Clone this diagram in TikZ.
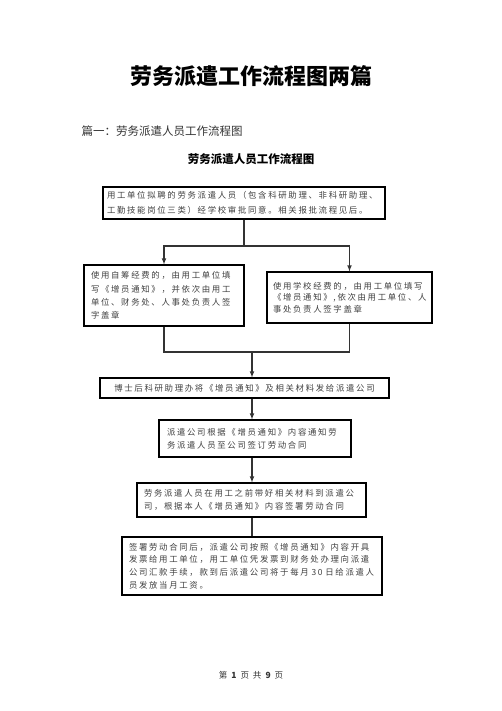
\documentclass[tikz,border=0pt]{standalone}
\usepackage{fontspec}
\setmainfont{Noto Sans CJK SC}
\newfontfamily\boxfont[LetterSpace=20]{Noto Sans CJK SC}
\usepackage{tikz}
\usetikzlibrary{arrows,positioning}

\begin{document}
\begin{tikzpicture}[x=1pt, y=-1pt, >=latex,
    stage/.style={rectangle, draw=black, line width=1.1pt, font=\boxfont\fontsize{8.4}{13}\selectfont, text=black!75, align=left, inner xsep=7pt, inner ysep=2pt},
    flow/.style={draw=black!80, line width=1.1pt},
    heading/.style={font=\bfseries\fontsize{11.5}{12}\selectfont}
]
% Page frame
\useasboundingbox (0,0) rectangle (502,711);

% Titles
\node[font=\bfseries\fontsize{22}{22}\selectfont] (title) at (251,76) {劳务派遣工作流程图两篇};
\node[anchor=west, font=\fontsize{11.5}{12}\selectfont, text=black!80] (part) at (78,131) {篇一：劳务派遣人员工作流程图};
\node[heading] (chart) at (251,159) {劳务派遣人员工作流程图};

% Steps
\node[stage, inner xsep=4pt, text width=274, minimum height=32, font=\boxfont\fontsize{8.4}{15}\selectfont] (apply) at (244,203) {用工单位拟聘的劳务派遣人员（包含科研助理、非科研助理、\\工勤技能岗位三类）经学校审批同意。相关报批流程见后。};

\node[stage, text width=146, minimum height=61, font=\boxfont\fontsize{8.4}{13.3}\selectfont] (selffund) at (164,295.5) {使用自筹经费的，由用工单位填\\写《增员通知》，并依次由用工\\单位、财务处、人事处负责人签\\字盖章};
\node[stage, inner xsep=6pt, text width=153, minimum height=51, font=\boxfont\fontsize{8.4}{11.7}\selectfont] (schoolfund) at (349.5,297.5) {使用学校经费的，由用工单位填写\\《增员通知》,依次由用工单位、人\\事处负责人签字盖章};

\node[stage, align=center, text width=275, minimum height=20] (postdoc) at (244.5,388) {博士后科研助理办将《增员通知》及相关材料发给派遣公司};

\node[stage, inner xsep=8pt, text width=176, minimum height=37] (notify) at (255,438.5) {派遣公司根据《增员通知》内容通知劳\\务派遣人员至公司签订劳动合同};

\node[stage, text width=215, minimum height=34] (contract) at (251.5,500) {劳务派遣人员在用工之前带好相关材料到派遣公\\司，根据本人《增员通知》内容签署劳动合同};

\node[stage, text width=246, minimum height=58, font=\boxfont\fontsize{8.4}{12.7}\selectfont] (salary) at (252,566) {签署劳动合同后，派遣公司按照《增员通知》内容开具\\发票给用工单位，用工单位凭发票到财务处办理向派遣\\公司汇款手续，款到后派遣公司将于每月 30 日给派遣人\\员发放当月工资。};

% Connectors
\coordinate (split) at (244,246);
\coordinate (merge) at (252,352);
\draw[flow] (apply) -- (split);
\draw[flow, ->] (split) -| (selffund);
\draw[flow, ->] (split) -| (schoolfund);
\draw[flow] (selffund) |- (merge) -| (schoolfund);
\draw[flow, ->] (merge) -- (merge |- postdoc.north);
\draw[flow, ->] (postdoc.south -| merge) -- (notify.north -| merge);
\draw[flow, ->] (notify.south -| merge) -- (contract.north -| merge);
\draw[flow] (contract.south -| merge) -- (salary.north -| merge);

% Footer
\node[font=\fontsize{8.5}{9}\selectfont, text=black!80] (page) at (251,675) {第\hspace{4pt}\textbf{1}\hspace{4pt}页\hspace{4pt}共\hspace{4pt}\textbf{9}\hspace{4pt}页};

\end{tikzpicture}
\end{document}
